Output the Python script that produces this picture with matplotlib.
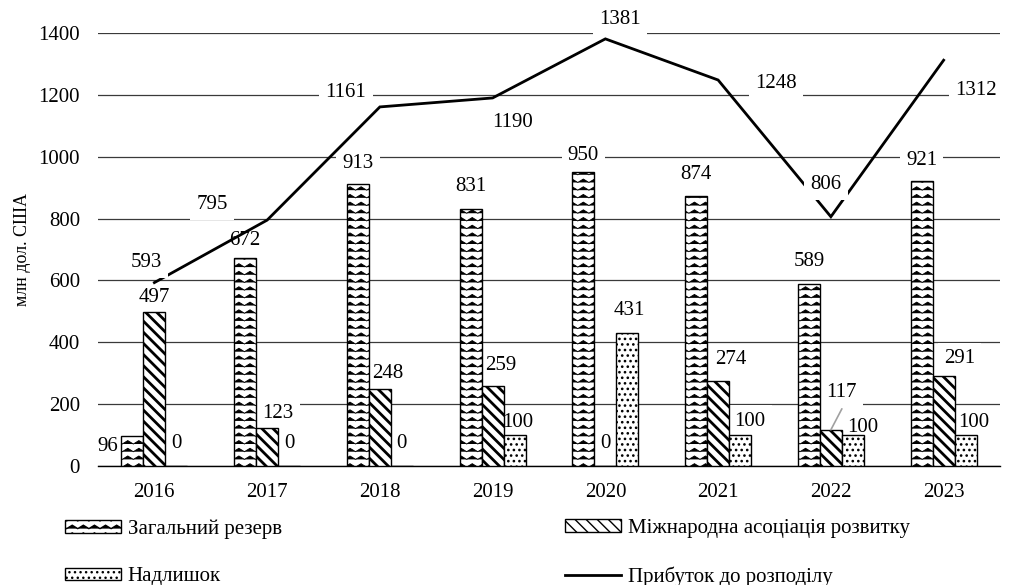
import numpy as np
import matplotlib
matplotlib.use("Agg")
import matplotlib.pyplot as plt
import matplotlib.hatch as mhatch
from matplotlib.path import Path
from matplotlib.lines import Line2D

# ---------------- data ----------------
years = ["2016", "2017", "2018", "2019", "2020", "2021", "2022", "2023"]
general_reserve = [96, 672, 913, 831, 950, 874, 589, 921]
ida = [497, 123, 248, 259, 0, 274, 117, 291]
surplus = [0, 0, 0, 100, 431, 100, 100, 100]
profit = [593, 795, 1161, 1190, 1381, 1248, 806, 1312]

series_names = ["Загальний резерв", "Міжнародна асоціація розвитку",
                "Надлишок", "Прибуток до розподілу"]
ylabel = "млн дол. США"

# label offsets (pixels, relative to bar top / point)
gr_off = [(-25, -10), (0, 18), (0, 20), (0, 22), (0, 17), (0, 21), (0, 22), (0, 21)]
ida_off = [(0, 15), (11, 14), (8, 16), (8, 20), (0, 23), (13, 22), (11, 37), (16, 17)]
sur_off = [(0, 23), (0, 23), (0, 23), (3, 13), (2, 22), (10, 14), (10, 8), (8, 13)]
pr_off = [(-8, 20), (-55, 16), (-34, 14), (20, -25), (15, 19), (58, -3), (-5, 32), (32, -30)]


# ---------------- custom zigzag hatch (replaces '*') ----------------
class ZigZagHatch(mhatch.HatchPatternBase):
    def __init__(self, hatch, density):
        self.num_rows = 13 * hatch.count('*')
        self.nper = 9
        self.n = 2 * self.nper + 1
        self.num_vertices = self.num_rows * self.n

    def set_vertices_and_codes(self, vertices, codes):
        n = self.n
        xs = np.linspace(0.0, 1.0, n)
        amp = 0.034
        for r in range(self.num_rows):
            y0 = (r + 0.5) / self.num_rows
            ys = y0 + np.where(np.arange(n) % 2 == 0, -amp / 2, amp / 2)
            vertices[r * n:(r + 1) * n, 0] = xs
            vertices[r * n:(r + 1) * n, 1] = ys
            codes[r * n] = Path.MOVETO
            codes[r * n + 1:(r + 1) * n] = Path.LINETO


mhatch._hatch_types = [ZigZagHatch if t is mhatch.Stars else t
                       for t in mhatch._hatch_types]

plt.rcParams['font.family'] = ['Liberation Serif', 'DejaVu Serif']
plt.rcParams['hatch.color'] = 'black'

W, H = 1011, 585
fig = plt.figure(figsize=(W / 100, H / 100), dpi=100)
ax = fig.add_axes([98 / W, 1 - 466 / H, 902 / W, 433 / H])

x = np.arange(len(years))
bw = 0.195


def make_bars(xpos, vals, hatch, hlw):
    with plt.rc_context({'hatch.linewidth': hlw}):
        bars = ax.bar(xpos, vals, bw, color='white', edgecolor='black',
                      linewidth=1.0, hatch=hatch, zorder=3)
    for b in bars:
        try:
            b.set_hatch_linewidth(hlw)
        except AttributeError:
            pass
    return bars


b1 = make_bars(x - bw, general_reserve, '*', 0.65)
b2 = make_bars(x, ida, '\\\\\\', 2.0)
b3 = make_bars(x + bw, surplus, '...', 1.1)

ln, = ax.plot(x, profit, color='black', linewidth=2.0, zorder=4,
              solid_joinstyle='miter')

ax.set_xlim(-0.5, len(years) - 0.5)
ax.set_ylim(0, 1400)
ax.set_yticks(np.arange(0, 1401, 200))
ax.set_xticks(x)
ax.set_xticklabels(years)
ax.tick_params(axis='both', length=0, labelsize=15)
ax.tick_params(axis='y', pad=13)
ax.tick_params(axis='x', pad=12)
ax.grid(axis='y', color='#3a3a3a', linewidth=0.9, zorder=0)
ax.set_axisbelow(True)
for s in ['top', 'right', 'left']:
    ax.spines[s].set_visible(False)
ax.spines['bottom'].set_color('black')
ax.spines['bottom'].set_linewidth(1.0)
ax.set_ylabel(ylabel, fontsize=13, labelpad=5)

bbox = dict(boxstyle='square,pad=0.3', fc='white', ec='none')


def lab(xv, yv, val, off, z):
    ax.annotate(str(val), (xv, yv), xytext=(off[0], off[1]),
                textcoords='offset pixels', ha='center', va='center',
                fontsize=15, zorder=z, bbox=bbox, annotation_clip=False)


for i in range(len(years)):
    lab(x[i] - bw, general_reserve[i], general_reserve[i], gr_off[i], 2.5)
    lab(x[i], ida[i], ida[i], ida_off[i], 2.5)
    lab(x[i] + bw, surplus[i], surplus[i], sur_off[i], 2.5)
    lab(x[i], profit[i], profit[i], pr_off[i], 6)

# leader line for 2022 IDA label
i = 6
p0 = ax.transData.transform((x[i], ida[i]))
ax.annotate('', xy=(x[i], ida[i]), xytext=(p0[0] + 11, p0[1] + 21),
            textcoords='figure pixels',
            arrowprops=dict(arrowstyle='-', color='#a0a0a0', lw=1.2,
                            shrinkA=0, shrinkB=0), zorder=7)

# legends
leg_kw = dict(frameon=False, fontsize=15, handlelength=2.7, handleheight=0.55,
              handletextpad=0.3, labelspacing=1.36, borderpad=0,
              borderaxespad=0, loc='center left')
fig.legend([b1[0], b3[0]], [series_names[0], series_names[2]],
           bbox_to_anchor=(65 / W, 1 - 553 / H), **leg_kw)
fig.legend([b2[0], Line2D([], [], color='black', lw=2.0)],
           [series_names[1], series_names[3]],
           bbox_to_anchor=(565 / W, 1 - 553 / H), **leg_kw)

fig.savefig('out.png', dpi=100)
